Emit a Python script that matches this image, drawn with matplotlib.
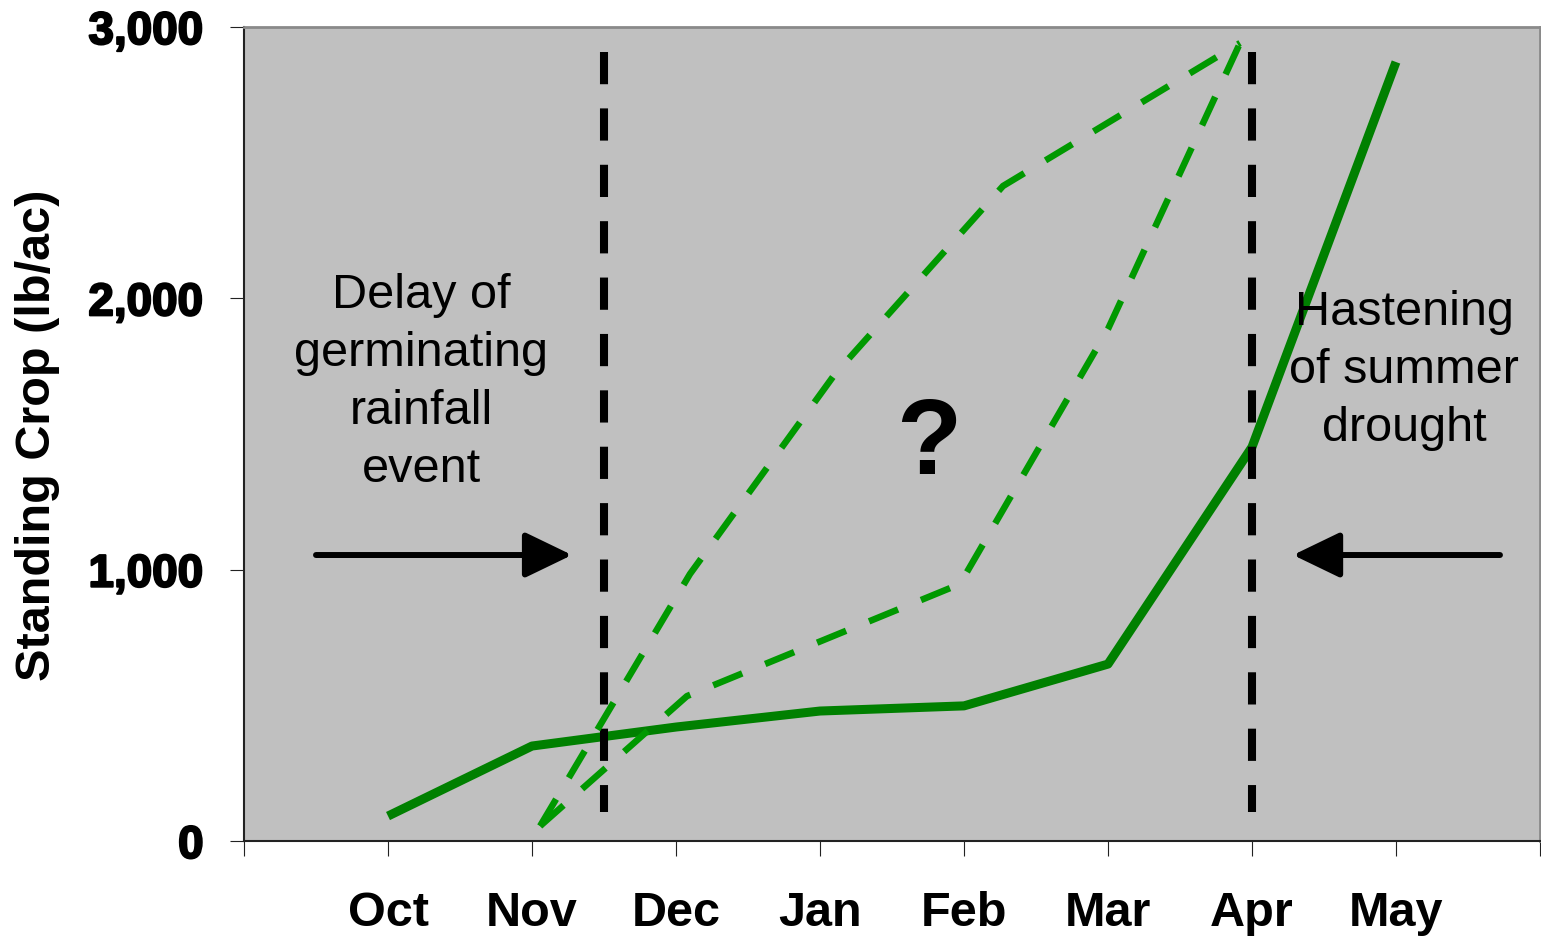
import matplotlib
matplotlib.use("Agg")
import matplotlib.pyplot as plt
import matplotlib.patheffects as pe
from matplotlib import font_manager

# fonts: Arial-like, narrow bold for the axis text where available
available = {f.name for f in font_manager.fontManager.ttflist}
narrow = "Liberation Sans Narrow" if "Liberation Sans Narrow" in available else "Liberation Sans"
narrow_size = 40 if narrow == "Liberation Sans Narrow" else 35
plt.rcParams["font.family"] = ["Liberation Sans", "DejaVu Sans"]

# data
months = ["Oct", "Nov", "Dec", "Jan", "Feb", "Mar", "Apr", "May"]
month_x = [1, 2, 3, 4, 5, 6, 7, 8]
standing_crop = [92, 350, 420, 479, 498, 652, 1452, 2871]

# the two hypothetical (dashed) growth curves
early_x = [2.056, 3.097, 4.104, 5.271, 6.917]
early_y = [55, 984, 1721, 2414, 2941]
late_x = [2.056, 3.076, 4.972, 6.0, 6.917]
late_y = [55, 534, 947, 1887, 2941]

# season boundaries (vertical dashed markers)
boundary_x = [2.5, 7.0]
boundary_y = [2908, 107]

y_ticks = [0, 1000, 2000, 3000]

fig = plt.figure(figsize=(15.41, 9.37), dpi=100)
ax = fig.add_axes([244 / 1541, 95 / 937, 1296 / 1541, 814 / 937])
ax.set_facecolor("#C0C0C0")

ax.plot(month_x, standing_crop, color="#008000", lw=6.5, solid_capstyle="butt", zorder=3)

for bx in boundary_x:
    ax.plot([bx, bx], boundary_y, color="black", lw=5.8, linestyle=(0, (4.0, 3.0)), zorder=4)

ax.plot(early_x, early_y, color="#009900", lw=4.7, linestyle=(0, (4.8, 3.8)), zorder=5)
ax.plot(late_x, late_y, color="#009900", lw=4.7, linestyle=(0, (4.8, 3.8)), zorder=5)

# annotations
ax.text(1.229, 1695, "Delay of\ngerminating\nrainfall\nevent", ha="center", va="center",
        multialignment="center", fontsize=35, linespacing=1.37, zorder=6)
ax.text(8.056, 1737, "Hastening\nof summer\ndrought", ha="center", va="center",
        multialignment="center", fontsize=35, linespacing=1.37, zorder=6)
ax.text(4.757, 1458, "?", ha="center", va="center", fontsize=77, fontweight="bold", zorder=6)

arrow_style = "-|>,head_length=2.9,head_width=1.4"
ax.annotate("", xy=(2.278, 1054), xytext=(0.5, 1054),
            arrowprops=dict(arrowstyle=arrow_style, mutation_scale=10, lw=4.3, color="black",
                            shrinkA=0, shrinkB=0), zorder=6)
ax.annotate("", xy=(7.285, 1054), xytext=(8.722, 1054),
            arrowprops=dict(arrowstyle=arrow_style, mutation_scale=10, lw=4.3, color="black",
                            shrinkA=0, shrinkB=0), zorder=6)

# axes
ax.set_xlim(0, 9)
ax.set_ylim(0, 3000)
ax.set_xticks(range(10))
ax.set_xticklabels([""] + months + [""], fontsize=narrow_size, fontweight="bold", family=narrow)
ax.set_yticks(y_ticks)
ax.set_yticklabels([f"{v:,}" for v in y_ticks], fontsize=33, fontweight="bold",
                   path_effects=[pe.withStroke(linewidth=1.5, foreground="black")])
ax.tick_params(axis="x", length=11, width=0.8, color="#222222", pad=24)
ax.tick_params(axis="y", length=10, width=0.8, color="#222222", pad=19)

ax.set_ylabel("Standing Crop (lb/ac)", fontsize=narrow_size, fontweight="bold", family=narrow)
ax.yaxis.set_label_coords(-0.142, 0.5)

for side in ["top", "right"]:
    ax.spines[side].set_color("#8A8A8A")
    ax.spines[side].set_linewidth(2)
for side in ["left", "bottom"]:
    ax.spines[side].set_color("#222222")
    ax.spines[side].set_linewidth(1.5)

fig.savefig("out.png", dpi=100, facecolor="white")
